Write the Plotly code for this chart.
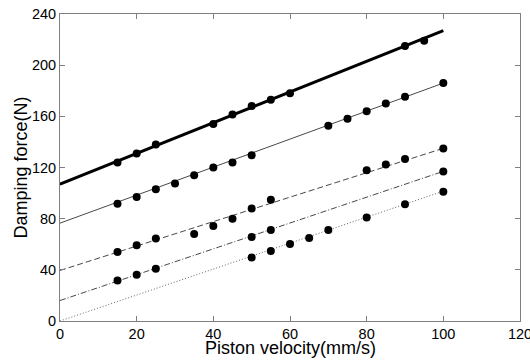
import plotly.graph_objects as go

# measured points
x1 = [15, 20, 25, 40, 45, 50, 55, 60, 90, 95]
y1 = [124, 131, 138, 154, 161.5, 168, 173, 178, 215, 219]
x2 = [15, 20, 25, 30, 35, 40, 45, 50, 70, 75, 80, 85, 90, 100]
y2 = [91.7, 97, 103, 107.5, 114, 120, 124, 129.6, 152.7, 158.2, 164, 170, 175.4, 186]
x3 = [15, 20, 25, 35, 40, 45, 50, 55, 80, 85, 90, 100]
y3 = [54, 59.2, 64.4, 68, 74.3, 80, 88, 94.8, 117.9, 122.4, 126.7, 134.8]
x4 = [15, 20, 25, 50, 55, 100]
y4 = [31.7, 36.1, 40.8, 65.7, 71.2, 116.9]
x5 = [50, 55, 60, 65, 70, 80, 90, 100]
y5 = [49.6, 54.8, 60.2, 64.9, 71.2, 81, 91.2, 101]

# fitted lines (endpoints)
fit_x = [0, 100]
fit1 = [107, 227]
fit2 = [76.5, 186]
fit3 = [39.5, 135]
fit4 = [16, 117]
fit5 = [0, 101.5]

xticks = [0, 20, 40, 60, 80, 100, 120]
yticks = [0, 40, 80, 120, 160, 200, 240]

FONT = "Liberation Sans, Arial"

fig = go.Figure()
line_styles = [
    (fit1, dict(color="black", width=3, dash="solid")),
    (fit2, dict(color="#333333", width=0.9, dash="solid")),
    (fit3, dict(color="#333333", width=0.9, dash="6px,3px")),
    (fit4, dict(color="#333333", width=0.9, dash="6px,2px,1px,2px")),
    (fit5, dict(color="#555555", width=0.9, dash="1px,2px")),
]
for fy, ls in line_styles:
    fig.add_trace(go.Scatter(x=fit_x, y=fy, mode="lines", line=ls, showlegend=False, hoverinfo="skip"))

for xs, ys in [(x1, y1), (x2, y2), (x3, y3), (x4, y4), (x5, y5)]:
    fig.add_trace(go.Scatter(x=xs, y=ys, mode="markers",
                             marker=dict(color="black", size=8, symbol="circle"),
                             showlegend=False))

axis_common = dict(
    showline=True, linecolor="#7f7f7f", linewidth=1, mirror="ticks",
    ticks="inside", ticklen=5, tickcolor="#7f7f7f", showgrid=False, zeroline=False,
    tickfont=dict(family=FONT, size=14.5, color="black"),
    ticklabeloverflow="allow", automargin=False,
)
fig.update_xaxes(range=[0, 120], tickvals=xticks, ticktext=[str(v) for v in xticks],
                 **axis_common)
fig.update_yaxes(range=[0, 240], tickvals=yticks, ticktext=[str(v) for v in yticks],
                 **axis_common)
fig.add_annotation(text="Piston velocity(mm/s)", xref="paper", yref="paper",
                   x=0.5, y=0, xanchor="center", yanchor="top", yshift=-15,
                   showarrow=False, font=dict(family=FONT, size=18, color="black"))
fig.add_annotation(text="Damping force(N)", xref="paper", yref="paper",
                   x=0, y=0.5, xanchor="center", yanchor="middle", xshift=-40, textangle=-90,
                   showarrow=False, font=dict(family=FONT, size=18, color="black"))
fig.update_layout(
    width=530, height=360,
    margin=dict(l=60, r=10, t=14, b=39),
    plot_bgcolor="white", paper_bgcolor="white",
)
fig.write_html("out.html")
